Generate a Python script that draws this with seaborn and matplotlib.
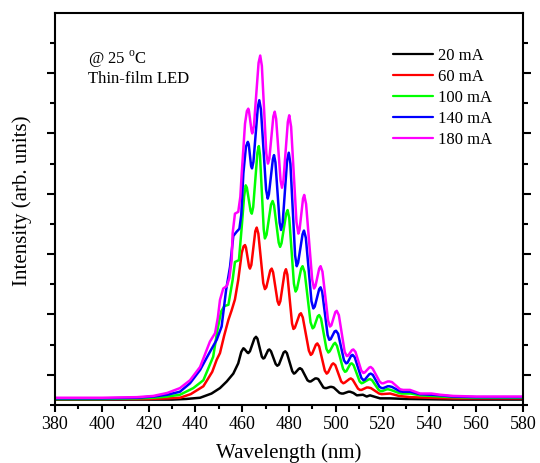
import matplotlib
matplotlib.use("Agg")
import matplotlib.pyplot as plt
from matplotlib.ticker import MultipleLocator, FixedLocator
import numpy as np
import pandas as pd
import seaborn as sns

# ---- electroluminescence spectra of a thin-film LED at several drive currents ----
currents = ["20 mA", "60 mA", "100 mA", "140 mA", "180 mA"]
colors = ["#000000", "#ff0000", "#00ff00", "#0000ff", "#ff00ff"]
x_ticks = [380, 400, 420, 440, 460, 480, 500, 520, 540, 560, 580]

# (wavelength in nm, intensity in arb. units)
spec_20 = [(380, .09), (400, .09), (420, .09), (430, .09), (436, .10), (442.0, .12), (446.9, .19),
           (450.5, .28), (453.4, .39), (456.2, .52), (458.3, .69), (459.6, .88), (460.5, .94),
           (460.9, .93), (462.2, .87), (462.6, .86), (463.3, .89), (465.2, 1.10), (465.9, 1.13),
           (466.5, 1.10), (468.4, .80), (469.0, .77), (469.5, .78), (471.1, .91), (471.6, .92),
           (472.3, .89), (474.3, .68), (475.0, .65), (475.7, .67), (477.7, .87), (478.4, .89),
           (479.1, .86), (481.4, .56), (482.1, .52), (482.6, .53), (484.2, .60), (484.7, .61),
           (485.5, .59), (487.9, .41), (488.7, .39), (489.3, .39), (491.2, .44), (491.8, .44),
           (492.5, .43), (494.7, .29), (495.4, .28), (496.0, .28), (497.6, .30), (498.2, .30),
           (499.1, .29), (501.6, .20), (502.5, .19), (503.2, .19), (505.4, .22), (506.1, .22),
           (507.5, .20), (509.0, .16), (511.6, .17), (513.2, .14), (514.6, .16), (518.9, .11),
           (523.2, .11), (530, .10), (550, .09), (580, .09)]

spec_60 = [(380, .10), (400, .10), (420, .10), (428, .11), (433.4, .12), (438.0, .18), (443.4, .31),
           (447.2, .55), (449.1, .75), (450.5, .86), (452.3, 1.15), (454.1, 1.41), (455.5, 1.57),
           (456.9, 1.75), (458.3, 2.07), (459.8, 2.52), (460.6, 2.63), (461.2, 2.65), (461.6, 2.61),
           (462.9, 2.30), (463.3, 2.26), (463.9, 2.32), (465.6, 2.88), (466.2, 2.94), (466.9, 2.84),
           (469.0, 2.02), (469.7, 1.92), (470.3, 1.95), (472.0, 2.23), (472.6, 2.26), (473.2, 2.20),
           (475.1, 1.72), (475.7, 1.66), (476.3, 1.72), (478.1, 2.19), (478.7, 2.25), (479.3, 2.16),
           (481.3, 1.35), (481.9, 1.26), (482.5, 1.28), (484.5, 1.50), (485.1, 1.52), (485.9, 1.45),
           (488.5, .90), (489.3, .83), (489.9, .85), (491.5, 1.00), (492.1, 1.02), (492.9, .97),
           (495.3, .57), (496.1, .52), (496.7, .54), (498.3, .67), (498.9, .69), (499.8, .66),
           (502.3, .39), (503.2, .36), (503.8, .37), (505.8, .43), (506.4, .44), (507.2, .42),
           (509.5, .27), (510.3, .25), (511.0, .25), (513.2, .29), (513.9, .29), (515.0, .28),
           (518.5, .19), (519.6, .18), (523.2, .19), (527, .15), (531.7, .13), (540, .12),
           (550, .11), (580, .11)]

spec_100 = [(380, .10), (400, .10), (415, .11), (422, .12), (428, .14), (433.4, .17), (439.1, .28),
            (443.4, .41), (447.6, .80), (449.4, 1.24), (451.0, 1.55), (452.4, 1.64), (454.1, 1.66),
            (455.9, 2.07), (456.9, 2.37), (458.6, 2.40), (459.8, 2.95), (460.8, 3.45), (461.5, 3.64),
            (462.0, 3.60), (463.6, 3.21), (464.1, 3.17), (464.7, 3.28), (466.5, 4.18), (467.1, 4.29),
            (467.6, 4.14), (469.2, 2.91), (469.7, 2.76), (470.4, 2.82), (472.3, 3.32), (473.0, 3.38),
            (473.6, 3.31), (475.6, 2.69), (476.2, 2.62), (476.8, 2.68), (478.8, 3.17), (479.4, 3.23),
            (480.1, 3.10), (482.1, 2.01), (482.8, 1.88), (483.4, 1.92), (485.2, 2.26), (485.8, 2.30),
            (486.7, 2.20), (489.2, 1.37), (490.1, 1.27), (490.7, 1.29), (492.3, 1.47), (492.9, 1.49),
            (493.7, 1.43), (496.0, .93), (496.8, .87), (497.4, .89), (499.1, 1.01), (499.7, 1.03),
            (500.5, .98), (503.1, .60), (503.9, .55), (504.5, .56), (506.2, .68), (506.8, .69),
            (507.6, .66), (510.2, .39), (511.0, .36), (511.7, .37), (513.9, .42), (514.6, .43),
            (515.5, .41), (518.3, .25), (519.2, .23), (519.8, .23), (521.8, .26), (522.4, .26),
            (523.5, .25), (526.9, .20), (528, .19), (532, .19), (536, .16), (541, .15), (545, .14),
            (550, .13), (560, .12), (570, .12), (580, .12)]

spec_140 = [(380, .11), (400, .11), (415, .12), (422, .14), (428, .17), (433.4, .22), (437.7, .36),
            (442.0, .58), (446.2, .88), (449.1, 1.08), (451.2, 1.30), (453.1, 1.90), (454.8, 2.29),
            (456.2, 2.80), (457.6, 2.87), (458.8, 2.92), (459.6, 3.15), (460.5, 3.84), (461.6, 4.28),
            (462.4, 4.36), (462.8, 4.32), (463.8, 3.96), (464.2, 3.92), (464.8, 4.03), (466.7, 4.94),
            (467.3, 5.05), (468.0, 4.90), (470.2, 3.57), (470.9, 3.42), (471.4, 3.49), (473.1, 4.07),
            (473.6, 4.14), (474.2, 4.02), (476.0, 3.02), (476.6, 2.90), (477.3, 3.02), (479.2, 4.06),
            (479.9, 4.18), (480.6, 4.00), (482.6, 2.48), (483.3, 2.30), (483.9, 2.36), (485.8, 2.83),
            (486.4, 2.89), (487.2, 2.77), (489.6, 1.72), (490.4, 1.60), (491.0, 1.63), (492.9, 1.92),
            (493.5, 1.95), (494.2, 1.87), (496.5, 1.16), (497.2, 1.08), (497.8, 1.09), (499.5, 1.22),
            (500.1, 1.23), (501.0, 1.18), (503.5, .74), (504.4, .69), (505.0, .70), (506.6, .82),
            (507.2, .83), (508.1, .79), (510.9, .45), (511.8, .41), (512.4, .42), (514.3, .51),
            (514.9, .52), (515.8, .50), (518.7, .30), (519.6, .28), (520.3, .28), (522.2, .31),
            (522.9, .31), (524.0, .30), (527.3, .23), (528.5, .22), (532, .22), (536, .18),
            (541, .17), (545, .16), (550, .14), (560, .13), (570, .13), (580, .13)]

spec_180 = [(380, .12), (400, .12), (415, .13), (422, .15), (428, .20), (433.4, .28), (437.7, .41),
            (442.0, .63), (444.8, .91), (446.2, 1.05), (448.4, 1.19), (449.6, 1.45), (450.5, 1.74),
            (451.9, 1.93), (453.4, 1.97), (454.5, 2.10), (455.5, 2.40), (455.9, 2.84), (456.9, 3.17),
            (458.3, 3.20), (459.2, 3.45), (459.8, 3.84), (461.2, 4.66), (462.0, 4.87), (462.6, 4.91),
            (462.9, 4.87), (464.0, 4.54), (464.3, 4.50), (465.0, 4.62), (467.0, 5.67), (467.7, 5.79),
            (468.4, 5.62), (470.3, 4.17), (471.0, 4.00), (471.6, 4.08), (473.3, 4.78), (473.9, 4.86),
            (474.5, 4.74), (476.4, 3.72), (477.0, 3.60), (477.6, 3.71), (479.5, 4.69), (480.1, 4.80),
            (480.9, 4.61), (483.2, 3.03), (484.0, 2.84), (484.5, 2.90), (486.0, 3.42), (486.5, 3.48),
            (487.3, 3.33), (489.9, 2.08), (490.7, 1.93), (491.3, 1.97), (492.9, 2.26), (493.5, 2.30),
            (494.3, 2.21), (496.7, 1.40), (497.5, 1.30), (498.1, 1.32), (499.8, 1.54), (500.4, 1.56),
            (501.3, 1.49), (503.8, .88), (504.7, .81), (505.3, .82), (506.9, .91), (507.5, .92),
            (508.4, .88), (510.9, .57), (511.8, .53), (512.4, .54), (514.3, .62), (514.9, .63),
            (515.8, .60), (518.7, .39), (519.6, .36), (520.3, .36), (522.2, .39), (522.9, .39),
            (524.0, .38), (527.5, .26), (528.8, .25), (531.7, .25), (536.0, .19), (540.9, .19),
            (544.5, .17), (550.2, .15), (560, .14), (570, .14), (580, .14)]

frames = []
for cur, spec in zip(currents, [spec_20, spec_60, spec_100, spec_140, spec_180]):
    df = pd.DataFrame(spec, columns=["Wavelength", "Intensity"])
    df["Current"] = cur
    frames.append(df)
spectra = pd.concat(frames, ignore_index=True)

sns.set_theme(style="ticks", rc={
    "axes.edgecolor": "black", "axes.labelcolor": "black", "text.color": "black",
    "xtick.color": "black", "ytick.color": "black",
})
plt.rcParams["font.family"] = ["Liberation Serif", "DejaVu Serif"]
plt.rcParams["mathtext.fontset"] = "custom"
plt.rcParams["mathtext.rm"] = "Liberation Serif"

fig = plt.figure(figsize=(5.4, 4.63), dpi=100)
ax = fig.add_axes([55 / 540, 58 / 463, 468 / 540, 392.3 / 463])

sns.lineplot(data=spectra, x="Wavelength", y="Intensity", hue="Current",
             hue_order=currents, palette=colors, estimator=None, sort=False,
             linewidth=1.8, ax=ax)

ax.set_xlim(380, 580)
ax.set_ylim(0, 6.5)
ax.xaxis.set_major_locator(FixedLocator(x_ticks))
ax.xaxis.set_minor_locator(MultipleLocator(10))
ax.yaxis.set_major_locator(FixedLocator(np.arange(0.5, 6.0, 1.0)))
ax.yaxis.set_minor_locator(FixedLocator(np.arange(0.0, 6.6, 1.0)))

for side in ["left", "right", "top", "bottom"]:
    ax.spines[side].set_linewidth(1.5)
    ax.spines[side].set_visible(True)

ax.tick_params(axis="x", which="major", direction="out", length=5, width=1.5,
               labelsize=13, pad=3, top=False)
ax.tick_params(axis="x", which="minor", direction="out", length=3, width=1.5, top=False)
ax.tick_params(axis="y", which="major", direction="out", length=5.5, width=1.5,
               left=True, right=True, labelleft=False, labelright=False)
ax.tick_params(axis="y", which="minor", direction="out", length=3.5, width=1.5,
               left=True, right=True)

ax.set_xlabel("Wavelength (nm)", fontsize=15, labelpad=7)
ax.set_ylabel("Intensity (arb. units)", fontsize=15)
ax.yaxis.set_label_coords(-0.05, 0.52)

ax.text(0.0705, 0.871, r"@ 25 $^{\mathrm{o}}$C", transform=ax.transAxes,
        fontsize=12, va="baseline", ha="left")
ax.text(0.0705, 0.820, "Thin-film LED", transform=ax.transAxes,
        fontsize=12, va="baseline", ha="left")

handles, labels = ax.get_legend_handles_labels()
leg = ax.legend(handles, labels, loc="upper left", bbox_to_anchor=(0.7216, 0.911),
                frameon=False, fontsize=12, handlelength=2.4, handletextpad=0.32,
                labelspacing=0.3, borderpad=0, borderaxespad=0)
for line in leg.get_lines():
    line.set_linewidth(1.6)

fig.savefig("out.png", dpi=100)
